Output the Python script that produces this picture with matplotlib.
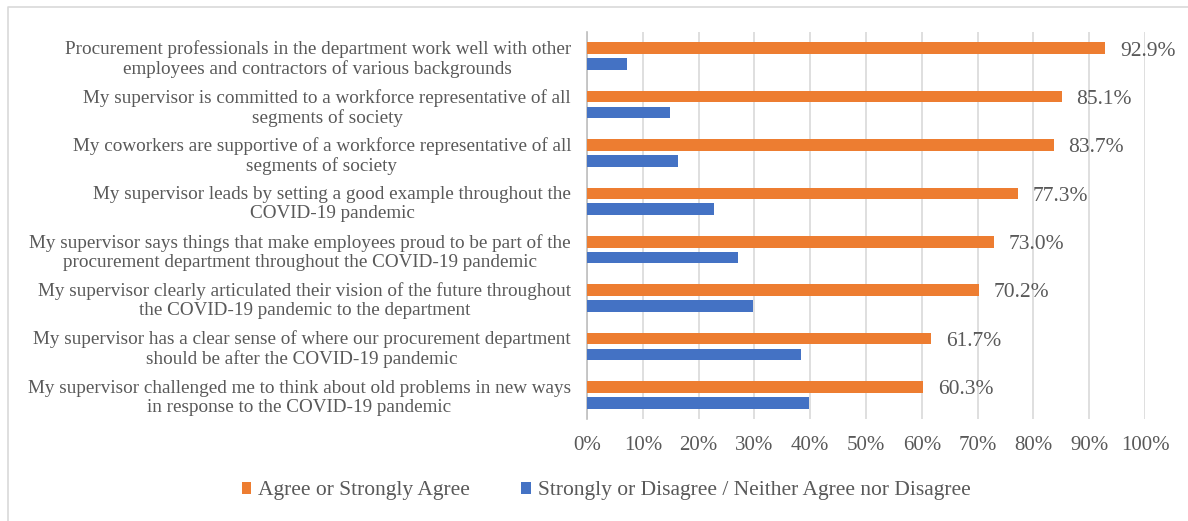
"""Horizontal grouped bar chart: perceptions of supervisors during COVID-19."""

import matplotlib

matplotlib.use("Agg")
import matplotlib.pyplot as plt  # noqa: E402
import numpy as np  # noqa: E402
from matplotlib.lines import Line2D  # noqa: E402

categories = [
    "Procurement professionals in the department work well with other\nemployees and contractors of various backgrounds",
    "My supervisor is committed to a workforce representative of all\nsegments of society",
    "My coworkers are supportive of a workforce representative of all\nsegments of society",
    "My supervisor leads by setting a good example throughout the\nCOVID-19 pandemic",
    "My supervisor says things that make employees proud to be part of the\nprocurement department throughout the COVID-19 pandemic",
    "My supervisor clearly articulated their vision of the future throughout\nthe COVID-19 pandemic to the department",
    "My supervisor has a clear sense of where our procurement department\nshould be after the COVID-19 pandemic",
    "My supervisor challenged me to think about old problems in new ways\nin response to the COVID-19 pandemic",
]
agree = [92.9, 85.1, 83.7, 77.3, 73.0, 70.2, 61.7, 60.3]
disagree = [7.1, 14.9, 16.3, 22.7, 27.0, 29.8, 38.3, 39.7]
series_names = [
    "Agree or Strongly Agree",
    "Strongly or Disagree / Neither Agree nor Disagree",
]

ORANGE = "#ED7D31"
BLUE = "#4472C4"
TEXT = "#595959"

plt.rcParams["font.family"] = ["Liberation Serif", "DejaVu Serif"]

fig = plt.figure(figsize=(11.88, 5.21), dpi=100)
ax = fig.add_axes([587 / 1188, 1 - 419 / 521, (1145 - 587) / 1188, (419 - 32) / 521])

y = np.arange(len(categories))
off = 0.165
h = 0.24
ax.barh(y - off, agree, height=h, color=ORANGE, label=series_names[0], zorder=3)
ax.barh(y + off, disagree, height=h, color=BLUE, label=series_names[1], zorder=3)

for yi, v in zip(y, agree):
    ax.text(v + 2.6, yi - off + 0.06, f"{v:.1f}%", va="center", ha="left",
            fontsize=15.5, color=TEXT, zorder=4)

ax.set_xlim(0, 100)
ax.set_ylim(len(categories) - 0.5, -0.5)
ax.set_xticks(np.arange(0, 101, 10))
ax.set_xticklabels([f"{t}%" for t in range(0, 101, 10)])
ax.set_yticks(y)
ax.set_yticklabels(categories, multialignment="center", linespacing=1.15)
ax.tick_params(axis="x", length=0, pad=12, labelsize=15, labelcolor=TEXT)
ax.tick_params(axis="y", length=0, pad=11.5, labelsize=13.8, labelcolor=TEXT)
ax.grid(axis="x", color="#D9D9D9", linewidth=1.2, zorder=0)
for side in ("top", "right", "bottom"):
    ax.spines[side].set_visible(False)
ax.spines["left"].set_color("#BFBFBF")
ax.spines["left"].set_linewidth(1.2)

fig.legend(
    loc="center",
    bbox_to_anchor=(606 / 1188, 1 - 491 / 521),
    ncol=2,
    frameon=False,
    fontsize=15.5,
    labelcolor=TEXT,
    handlelength=0.45,
    handleheight=0.45,
    handletextpad=0.3,
    columnspacing=2.4,
)

# thin chart-area border (top and left edges visible in the reference)
fig.add_artist(Line2D([8 / 1188, 8 / 1188, 1.0], [0.0, 1 - 6.5 / 521, 1 - 6.5 / 521],
                      transform=fig.transFigure, color="#D9D9D9", linewidth=1.2))

fig.savefig("out.png", dpi=100)
